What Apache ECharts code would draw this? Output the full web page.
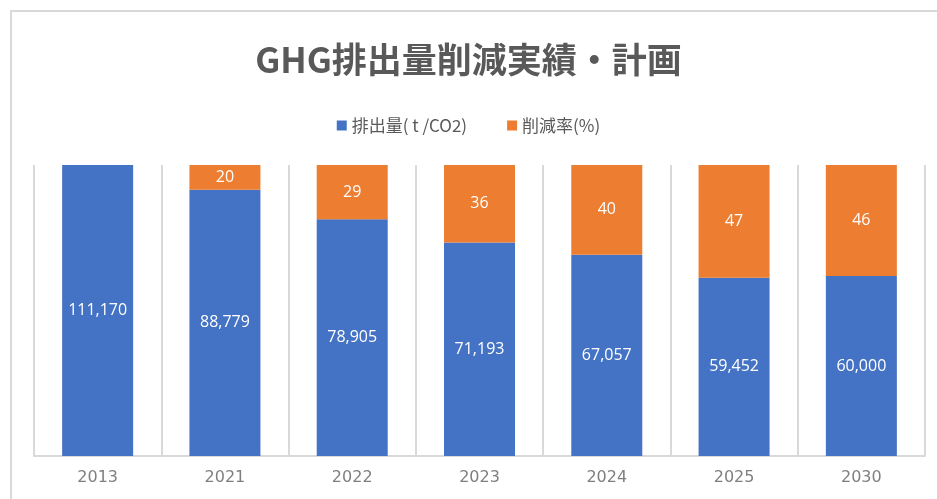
<!DOCTYPE html>
<html>
<head>
<meta charset="utf-8">
<script src="https://cdn.jsdelivr.net/npm/echarts@6/dist/echarts.min.js"></script>
<style>
  html, body { margin: 0; padding: 0; background: #fff; }
  #frame {
    position: absolute; left: 10px; top: 10px; width: 927px; height: 489px;
    border-left: 2px solid #d9d9d9; border-top: 2px solid #d9d9d9; box-sizing: border-box;
  }
  #chart { position: absolute; left: 0; top: 0; width: 937px; height: 499px; }
</style>
</head>
<body>
<div id="frame"></div>
<div id="chart"></div>
<script>
const years = ['2013', '2021', '2022', '2023', '2024', '2025', '2030']
const emissions = [111170, 88779, 78905, 71193, 67057, 59452, 60000]
const reductionRates = [null, 20, 29, 36, 40, 47, 46]

// 基準年の排出量まで削減分を積み上げ、軸の上限で切り取る
const baseValue = emissions[0]
const axisMax = 97000
const reductionFill = emissions.map((v, i) => reductionRates[i] == null ? 0 : baseValue - v)

const chart = echarts.init(document.getElementById('chart'))
const labelFont = {
  show: true,
  position: 'inside',
  color: '#fff',
  fontSize: 16,
  fontFamily: 'Open Sans, sans-serif'
}
const option = {
  backgroundColor: 'transparent',
  title: {
    text: 'GHG排出量削減実績・計画',
    left: 'center',
    top: 37,
    textStyle: {
      fontFamily: 'Noto Sans CJK JP',
      fontWeight: 'bold',
      fontSize: 35,
      color: '#595959'
    }
  },
  legend: {
    top: 112,
    left: 'center',
    itemWidth: 10,
    itemHeight: 10,
    itemGap: 40,
    icon: 'rect',
    textStyle: {
      fontFamily: 'Noto Sans CJK JP',
      fontSize: 17,
      color: '#595959'
    },
    data: ['排出量( t /CO2)', '削減率(%)']
  },
  grid: {
    left: 34,
    right: 12,
    top: 165,
    bottom: 43
  },
  xAxis: {
    type: 'category',
    data: years,
    axisLine: { lineStyle: { color: '#d9d9d9', width: 2 } },
    axisTick: { show: false },
    splitLine: { show: true, interval: 0, lineStyle: { color: '#d9d9d9', width: 2 } },
    axisLabel: {
      color: '#7f7f7f',
      fontSize: 16,
      margin: 14,
      fontFamily: 'DejaVu Sans, sans-serif'
    }
  },
  yAxis: {
    type: 'value',
    min: 0,
    max: axisMax,
    show: false,
    splitLine: { show: false }
  },
  series: [
    {
      name: '排出量( t /CO2)',
      type: 'bar',
      stack: 'total',
      barWidth: 71,
      clip: true,
      data: emissions,
      itemStyle: { color: '#4472c4' },
      label: {
        ...labelFont,
        formatter: p => p.value.toLocaleString('en-US')
      }
    },
    {
      name: '削減率(%)',
      type: 'bar',
      stack: 'total',
      barWidth: 71,
      clip: true,
      data: reductionFill,
      itemStyle: { color: '#ed7d31' },
      label: {
        ...labelFont,
        formatter: p => reductionRates[p.dataIndex] == null ? '' : String(reductionRates[p.dataIndex])
      }
    }
  ]
}
chart.setOption(option)
</script>
</body>
</html>
